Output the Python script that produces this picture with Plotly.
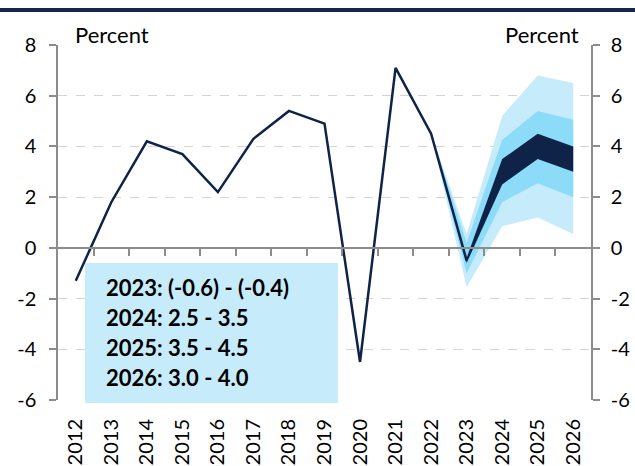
import plotly.graph_objects as go

# ---- data ----
years = list(range(2012, 2027))
hist_years = list(range(2012, 2024))
hist_values = [-1.3, 1.8, 4.2, 3.7, 2.2, 4.3, 5.4, 4.9, -4.5, 7.1, 4.5, -0.5]

fan_years = [2022, 2023, 2024, 2025, 2026]
outer_upper = [4.5, 0.55, 5.2, 6.8, 6.5]
outer_lower = [4.5, -1.55, 0.85, 1.2, 0.55]
mid_upper = [4.5, 0.2, 4.25, 5.4, 5.05]
mid_lower = [4.5, -1.0, 1.8, 2.55, 2.0]
core_upper = [4.5, -0.4, 3.5, 4.5, 4.0]
core_lower = [4.5, -0.6, 2.5, 3.5, 3.0]

legend_lines = ["2023: (-0.6) - (-0.4)", "2024: 2.5 - 3.5",
                "2025: 3.5 - 4.5", "2026: 3.0 - 4.0"]
y_ticks = [-6, -4, -2, 0, 2, 4, 6, 8]
y_ticktext = [str(v) for v in y_ticks]

FONT = "Lato"
NAVY = "#0F2348"
LIGHT = "#C6ECFC"
MID = "#8BDBF9"
GRAY = "#8C8C8C"

W, H = 635, 466
L, R, T, B = 58, 44, 45, 66
pw, ph = W - L - R, H - T - B


def px_x(x):
    return (x - L) / pw


def px_y(y):
    return 1 - (y - T) / ph


fig = go.Figure()


def band(upper, lower, color):
    fig.add_trace(go.Scatter(
        x=fan_years + fan_years[::-1],
        y=upper + lower[::-1],
        fill="toself", fillcolor=color, mode="lines",
        line=dict(width=0, color=color), hoverinfo="skip", showlegend=False))


band(outer_upper, outer_lower, LIGHT)
band(mid_upper, mid_lower, MID)
band(core_upper, core_lower, NAVY)

fig.add_trace(go.Scatter(x=hist_years, y=hist_values, mode="lines",
                         line=dict(color=NAVY, width=2.5), showlegend=False))

# helper trace so that secondary axes render
fig.add_trace(go.Scatter(x=[2012], y=[0], mode="lines", xaxis="x2", yaxis="y2",
                         line=dict(width=0), hoverinfo="skip", showlegend=False))

tickfont = dict(family=FONT, size=20, color="black")

fig.update_layout(
    width=W, height=H,
    margin=dict(l=L, r=R, t=T, b=B, autoexpand=False),
    paper_bgcolor="white", plot_bgcolor="white",
    showlegend=False,
    xaxis=dict(range=[2011.5, 2026.5], tickvals=years,
               ticktext=[str(y) for y in years], tickangle=-90,
               tickfont=dict(family=FONT, size=20, color="black"),
               showgrid=False, zeroline=False, showline=False,
               ticks="", ticklabelstandoff=14, automargin=False),
    xaxis2=dict(range=[2011.5, 2026.5], overlaying="x", anchor="free",
                position=6 / 14, side="bottom",
                tickvals=[y + 0.5 for y in years[:-1]],
                showticklabels=False, ticks="outside", ticklen=7,
                tickcolor=GRAY, tickwidth=1.5,
                showline=True, linecolor=GRAY, linewidth=1.5,
                showgrid=False, zeroline=False, automargin=False),
    yaxis=dict(range=[-6, 8], tickvals=y_ticks, ticktext=y_ticktext, tickfont=tickfont,
               showgrid=True, gridcolor="#D4D4D4", griddash="dash", gridwidth=1,
               zeroline=False, showline=True, linecolor=GRAY, linewidth=1.5,
               ticks="outside", ticklen=7, tickcolor=GRAY, tickwidth=1.5,
               ticklabelstandoff=9, automargin=False),
    yaxis2=dict(range=[-6, 8], tickvals=y_ticks, ticktext=y_ticktext, tickfont=tickfont,
                overlaying="y", side="right", showgrid=False, zeroline=False,
                showline=True, linecolor=GRAY, linewidth=1.5,
                ticks="outside", ticklen=7, tickcolor=GRAY, tickwidth=1.5,
                ticklabelstandoff=7, automargin=False),
)

# top navy rule
fig.add_shape(type="line", xref="paper", yref="paper",
              x0=px_x(0), x1=px_x(W), y0=px_y(10), y1=px_y(10),
              line=dict(color="#13284B", width=4))

# legend box
fig.add_shape(type="rect", xref="paper", yref="paper",
              x0=px_x(85), x1=px_x(338), y0=px_y(263), y1=px_y(403),
              fillcolor=LIGHT, line=dict(width=0), layer="above")

for i, txt in enumerate(legend_lines):
    fig.add_annotation(xref="paper", yref="paper", x=px_x(104), y=px_y(287 + 30 * i),
                       xanchor="left", yanchor="middle", showarrow=False, text=txt,
                       font=dict(family=FONT, size=22, color="black", weight="bold"))

fig.add_annotation(xref="paper", yref="paper", x=px_x(73), y=px_y(34),
                   xanchor="left", yanchor="middle", showarrow=False, text="Percent",
                   font=dict(family=FONT, size=22, color="black"))
fig.add_annotation(xref="paper", yref="paper", x=px_x(581), y=px_y(34),
                   xanchor="right", yanchor="middle", showarrow=False, text="Percent",
                   font=dict(family=FONT, size=22, color="black"))

fig.write_html("out.html", config={"displayModeBar": False},
               post_script="document.body.style.margin='0px';"
                           "document.body.style.overflow='hidden';")
